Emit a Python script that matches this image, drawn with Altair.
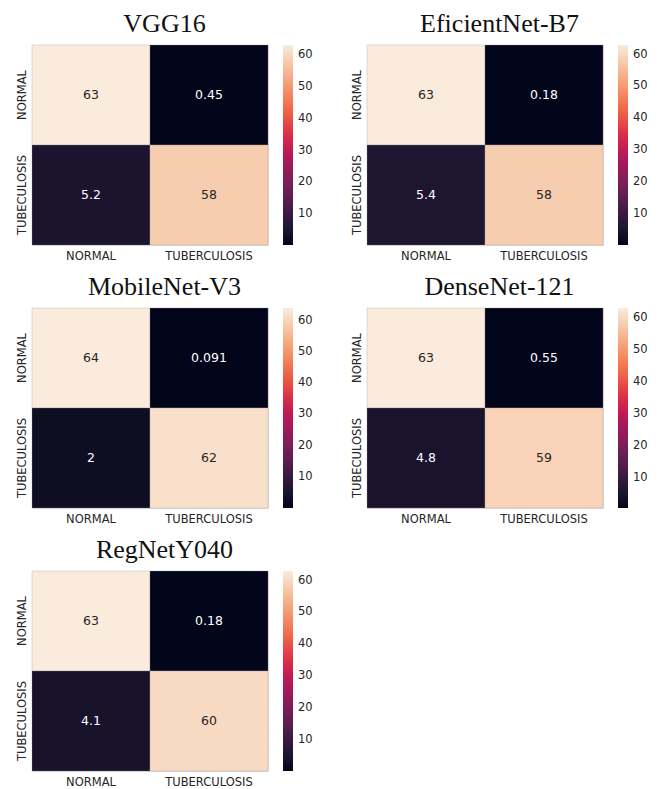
import altair as alt
import pandas as pd
import numpy as np

models = ["VGG16", "EficientNet-B7", "MobileNet-V3", "DenseNet-121", "RegNetY040"]
x_labels = ["NORMAL", "TUBERCULOSIS"]
y_labels = ["NORMAL", "TUBECULOSIS"]
# cells: (NORMAL,NORMAL), (NORMAL,TUB), (TUB,NORMAL), (TUB,TUB)
v_nn = [63, 63, 64, 63, 63]
v_nt = [0.45, 0.18, 0.091, 0.55, 0.18]
v_tn = [5.2, 5.4, 2, 4.8, 4.1]
v_tt = [58, 58, 62, 59, 60]
t_nn = ["63", "63", "64", "63", "63"]
t_nt = ["0.45", "0.18", "0.091", "0.55", "0.18"]
t_tn = ["5.2", "5.4", "2", "4.8", "4.1"]
t_tt = ["58", "58", "62", "59", "60"]

rocket = ["#03051a", "#35193e", "#701f57", "#ad1759", "#e13342", "#f37651", "#f6b48f", "#faebdd"]
legend_ticks = [10, 20, 30, 40, 50, 60]

W, H = 236, 200


def panel(i):
    df = pd.DataFrame({
        "pred": [x_labels[0], x_labels[1], x_labels[0], x_labels[1]],
        "true": [y_labels[0], y_labels[0], y_labels[1], y_labels[1]],
        "v": [v_nn[i], v_nt[i], v_tn[i], v_tt[i]],
        "t": [t_nn[i], t_nt[i], t_tn[i], t_tt[i]],
    })
    lo, hi = float(df["v"].min()), float(df["v"].max())
    dom = list(np.linspace(lo, hi, len(rocket)))
    xenc = alt.X("pred:N", sort=x_labels, title=None,
                 scale=alt.Scale(paddingInner=0, paddingOuter=0),
                 axis=alt.Axis(labelAngle=0, ticks=False, domain=False, labelPadding=5,
                               labelFontSize=11.5, labelColor="#262626", labelFont="DejaVu Sans"))
    yenc = alt.Y("true:N", sort=y_labels, title=None,
                 scale=alt.Scale(paddingInner=0, paddingOuter=0),
                 axis=alt.Axis(labelAngle=-90, labelAlign="center", labelBaseline="bottom",
                               ticks=False, domain=False, labelPadding=5,
                               labelFontSize=11.5, labelColor="#262626", labelFont="DejaVu Sans"))
    rect = alt.Chart(df).mark_rect(stroke="#9a8f96", strokeWidth=0.3).encode(
        x=xenc, y=yenc,
        color=alt.Color("v:Q", scale=alt.Scale(domain=dom, range=rocket, clamp=True),
                        legend=alt.Legend(title=None, values=legend_ticks, gradientLength=H,
                                          gradientThickness=10, offset=15, padding=0,
                                          labelFontSize=11.5, labelColor="#262626",
                                          labelFont="DejaVu Sans", labelOffset=5,
                                          gradientStrokeWidth=0, direction="vertical")),
    )
    text = alt.Chart(df).mark_text(fontSize=12.5, font="DejaVu Sans").encode(
        x=alt.X("pred:N", sort=x_labels), y=alt.Y("true:N", sort=y_labels),
        text="t:N",
        color=alt.condition(alt.datum.v > (lo + hi) / 2, alt.value("#262626"), alt.value("#ffffff")),
    )
    return alt.layer(rect, text).properties(
        width=W, height=H,
        title=alt.TitleParams(models[i], font="Liberation Serif", fontSize=26, fontWeight="normal",
                              color="#111111", anchor="middle", frame="bounds", offset=8),
    ).resolve_scale(color="independent")


p = [panel(i) for i in range(5)]
row1 = alt.hconcat(p[0], p[1], spacing=36).resolve_scale(color="independent").resolve_legend(color="independent")
row2 = alt.hconcat(p[2], p[3], spacing=36).resolve_scale(color="independent").resolve_legend(color="independent")
chart = alt.vconcat(row1, row2, p[4], spacing=11).resolve_scale(color="independent").resolve_legend(
    color="independent").configure_view(stroke=None).configure(padding={"left": 7, "top": 2, "right": 0, "bottom": 0})

chart.save("out.html", embed_options={"renderer": "svg", "actions": False})
